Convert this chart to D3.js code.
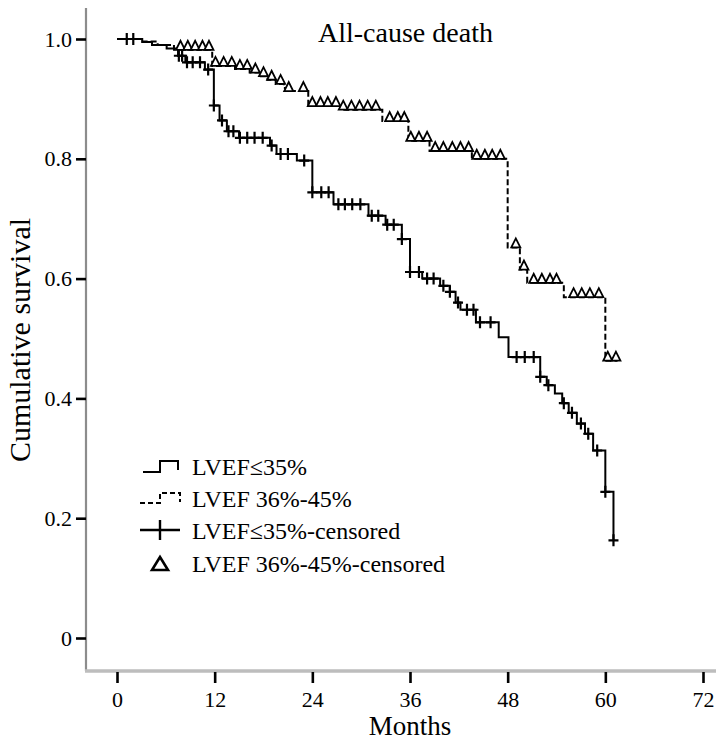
<!DOCTYPE html>
<html>
<head>
<meta charset="utf-8">
<script src="https://cdn.jsdelivr.net/npm/d3@7"></script>
<style>
  body { margin: 0; background: #fff; }
</style>
</head>
<body>
<svg width="724" height="743"></svg>
<script>
// Kaplan-Meier steps: [month, survival after drop]
const lowSteps = [
    [3.1, 0.995], [4.3, 0.99], [6.1, 0.984], [7.5, 0.972], [8.4, 0.961], [10.8, 0.949],
    [11.9, 0.889], [12.6, 0.864], [13.5, 0.846], [15.0, 0.835], [18.8, 0.822], [19.6, 0.808],
    [22.1, 0.797], [24.0, 0.744], [26.6, 0.724], [30.9, 0.705], [33.0, 0.69], [35.0, 0.666],
    [36.0, 0.611], [37.5, 0.6], [39.7, 0.588], [40.9, 0.578], [41.6, 0.56], [42.2, 0.548],
    [44.1, 0.527], [46.9, 0.502], [48.1, 0.469], [52.0, 0.436], [52.8, 0.422], [53.8, 0.408],
    [54.7, 0.392], [55.5, 0.376], [56.5, 0.358], [57.5, 0.341], [58.5, 0.313], [60.0, 0.244],
    [61.0, 0.163]
];
const lowEnd = 61.0;
const lowCensored = [
    1.2, 2.0, 7.6, 8.0, 8.6, 9.3, 10.2, 11.2, 11.9, 12.9, 13.7, 14.3, 15.1, 16.0, 16.9, 17.9,
    19.0, 20.1, 21.0, 23.0, 24.0, 25.1, 26.0, 27.2, 28.0, 28.9, 29.9, 31.3, 32.1, 33.2, 34.0,
    35.0, 36.0, 37.1, 38.1, 38.9, 40.1, 40.9, 41.9, 43.0, 43.8, 44.6, 45.9, 49.1, 50.1, 51.2,
    52.0, 53.0, 54.9, 55.9, 57.0, 57.9, 59.0, 60.0, 61.0
];

const midSteps = [
    [3.0, 0.996], [5.0, 0.99], [7.0, 0.982], [11.7, 0.955], [14.5, 0.95], [16.3, 0.944],
    [17.5, 0.938], [18.5, 0.932], [19.5, 0.925], [20.5, 0.918], [21.0, 0.913], [23.5, 0.888],
    [27.5, 0.882], [32.6, 0.863], [35.8, 0.83], [38.4, 0.813], [43.6, 0.8], [48.0, 0.652],
    [49.5, 0.615], [50.4, 0.593], [54.9, 0.569], [60.0, 0.463]
];
const midEnd = 61.5;
const midCensored = [
    7.8, 8.7, 9.6, 10.5, 11.3, 12.1, 13.1, 14.1, 15.1, 16.0, 17.0, 18.0, 19.0, 20.1, 21.1,
    22.9, 24.0, 25.0, 25.9, 26.9, 27.8, 28.8, 29.8, 30.8, 31.8, 33.5, 34.5, 35.3, 36.1, 37.1,
    38.1, 39.1, 40.1, 41.2, 42.2, 43.2, 44.2, 45.2, 46.1, 47.1, 49.0, 50.0, 51.2, 52.2, 53.2,
    54.0, 56.1, 57.1, 58.1, 59.2, 60.3, 61.3
];

const xTicks = [0, 12, 24, 36, 48, 60, 72];
const yTicks = [0, 0.2, 0.4, 0.6, 0.8, 1.0];
const legendLabels = ["LVEF≤35%", "LVEF 36%-45%", "LVEF≤35%-censored", "LVEF 36%-45%-censored"];

const serif = '"Liberation Serif", "Times New Roman", Times, "DejaVu Serif", serif';

const svg = d3.select("svg");

const x = d3.scaleLinear().domain([0, 72]).range([117, 703]);
const y = d3.scaleLinear().domain([0, 1]).range([638, 39]);

const spineX = 86;
const spineY = 671;

// spines
svg.append("line")
    .attr("x1", spineX).attr("x2", spineX)
    .attr("y1", 8).attr("y2", spineY)
    .attr("stroke", "#8c8c8c").attr("stroke-width", 2.2);
svg.append("line")
    .attr("x1", spineX - 1).attr("x2", 716)
    .attr("y1", spineY).attr("y2", spineY)
    .attr("stroke", "#bdbdbd").attr("stroke-width", 3.5);

// axes
const yAxis = svg.append("g")
    .attr("transform", `translate(${spineX},0)`)
    .call(d3.axisLeft(y).tickValues(yTicks).tickSizeInner(10).tickSizeOuter(0).tickPadding(4)
        .tickFormat(d => d === 0 ? "0" : d3.format(".1f")(d)));
yAxis.attr("font-family", serif);
yAxis.select(".domain").remove();
yAxis.selectAll(".tick line").attr("stroke", "#000").attr("stroke-width", 2.6);
yAxis.selectAll(".tick text").style("font-family", serif).style("font-size", "22px").attr("fill", "#000");

const xAxis = svg.append("g")
    .attr("transform", `translate(0,${spineY + 1})`)
    .call(d3.axisBottom(x).tickValues(xTicks).tickSizeInner(11).tickSizeOuter(0).tickPadding(8));
xAxis.attr("font-family", serif);
xAxis.select(".domain").remove();
xAxis.selectAll(".tick line").attr("stroke", "#000").attr("stroke-width", 2.6);
xAxis.selectAll(".tick text").style("font-family", serif).style("font-size", "22px").attr("fill", "#000");

// labels
svg.append("text")
    .attr("x", 318).attr("y", 42)
    .style("font-family", serif)
    .style("font-size", "28px")
    .text("All-cause death");

svg.append("text")
    .attr("x", x(36)).attr("y", 735)
    .attr("text-anchor", "middle")
    .style("font-family", serif)
    .style("font-size", "27px")
    .text("Months");

svg.append("text")
    .attr("transform", "translate(30,340) rotate(-90)")
    .attr("text-anchor", "middle")
    .style("font-family", serif)
    .style("font-size", "30px")
    .text("Cumulative survival");

// curves
function survAt(steps, t) {
    let s = 1;
    steps.forEach(([st, sv]) => { if (st <= t) s = sv; });
    return s;
}

function curvePoints(steps, end) {
    const pts = [[0, 1]].concat(steps);
    pts.push([end, steps[steps.length - 1][1]]);
    return pts;
}

const line = d3.line()
    .x(d => x(d[0]))
    .y(d => y(d[1]))
    .curve(d3.curveStepAfter);

const chart = svg.append("g");

chart.append("path")
    .attr("d", line(curvePoints(midSteps, midEnd)))
    .attr("fill", "none")
    .attr("stroke", "#000")
    .attr("stroke-width", 2)
    .attr("stroke-dasharray", "6,3");

chart.append("path")
    .attr("d", line(curvePoints(lowSteps, lowEnd)))
    .attr("fill", "none")
    .attr("stroke", "#000")
    .attr("stroke-width", 2);

const tri = 4.5; // half-width of triangle marker

chart.selectAll(".tri")
    .data(midCensored)
    .enter()
    .append("path")
    .attr("class", "tri")
    .attr("d", d => {
        const cx = x(d), cy = y(survAt(midSteps, d));
        return `M${cx - tri},${cy} L${cx + tri},${cy} L${cx},${cy - 9} Z`;
    })
    .attr("fill", "#fff")
    .attr("stroke", "#000")
    .attr("stroke-width", 1.8);

chart.selectAll(".plus")
    .data(lowCensored)
    .enter()
    .append("path")
    .attr("class", "plus")
    .attr("d", d => {
        const cx = x(d), cy = y(survAt(lowSteps, d));
        return `M${cx - 5},${cy} H${cx + 5} M${cx},${cy - 6} V${cy + 6}`;
    })
    .attr("stroke", "#000")
    .attr("stroke-width", 2.2);

// legend
const legendX = 140;
const legendRows = [467, 499, 531, 564];
const legend = svg.append("g");

legend.append("path")
    .attr("d", `M${legendX + 3},${legendRows[0] + 5} H${legendX + 20} V${legendRows[0] - 6} H${legendX + 38} V${legendRows[0] + 3}`)
    .attr("fill", "none").attr("stroke", "#000").attr("stroke-width", 2);
legend.append("path")
    .attr("d", `M${legendX},${legendRows[1] + 4} H${legendX + 20} V${legendRows[1] - 6} H${legendX + 40} V${legendRows[1] + 3}`)
    .attr("fill", "none").attr("stroke", "#000").attr("stroke-width", 2).attr("stroke-dasharray", "5,3");
legend.append("path")
    .attr("d", `M${legendX},${legendRows[2] - 1} H${legendX + 40} M${legendX + 20},${legendRows[2] - 11} V${legendRows[2] + 9}`)
    .attr("stroke", "#000").attr("stroke-width", 2.4);
legend.append("path")
    .attr("d", `M${legendX + 12},${legendRows[3] + 6} H${legendX + 28} L${legendX + 20},${legendRows[3] - 7} Z`)
    .attr("fill", "#fff").attr("stroke", "#000").attr("stroke-width", 2.6);

legend.selectAll(".legend-label")
    .data(legendLabels)
    .enter()
    .append("text")
    .attr("class", "legend-label")
    .attr("x", 192)
    .attr("y", (d, i) => legendRows[i])
    .attr("dy", "0.35em")
    .style("font-family", serif)
    .style("font-size", "24px")
    .text(d => d);
</script>
</body>
</html>
